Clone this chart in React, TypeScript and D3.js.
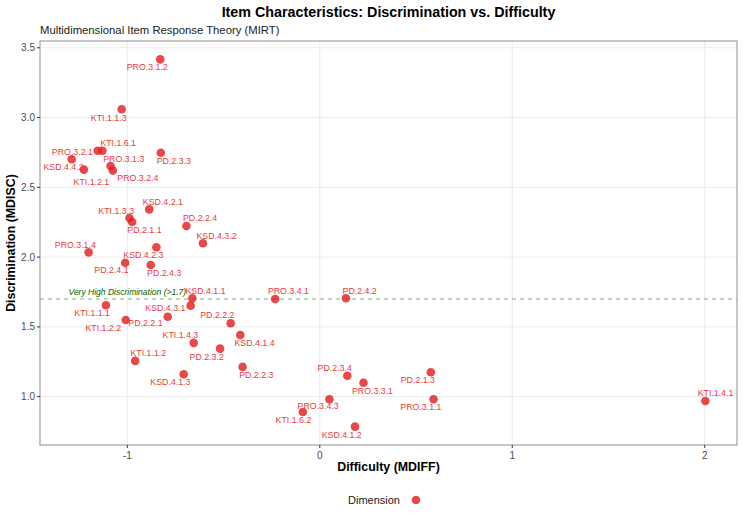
import React from "react";
import * as d3 from "d3";

const items = [
  "PRO.3.1.2", "KTI.1.1.3", "KTI.1.6.1", "PRO.3.1.3", "PRO.3.2.1", "PD.2.3.3", "KSD.4.4.2", "PRO.3.2.4",
  "KTI.1.2.1", "KSD.4.2.1", "KTI.1.3.3", "PD.2.1.1", "PD.2.2.4", "KSD.4.3.2", "PRO.3.1.4", "KSD.4.2.3",
  "PD.2.4.1", "PD.2.4.3", "KSD.4.1.1", "KSD.4.3.1", "KTI.1.1.1", "KTI.1.2.2", "PD.2.2.1", "PD.2.2.2",
  "KSD.4.1.4", "KTI.1.4.3", "PD.2.3.2", "KTI.1.1.2", "PD.2.2.3", "KSD.4.1.3", "PRO.3.4.1", "PD.2.4.2",
  "PD.2.3.4", "PRO.3.3.1", "PD.2.1.3", "PRO.3.1.1", "PRO.3.4.3", "KTI.1.6.2", "KSD.4.1.2", "KTI.1.4.1",
];

const mdiff = [
  -0.829, -1.029, -1.154, -1.129, -1.289, -0.826, -1.226, -1.087,
  -1.075, -0.886, -0.989, -0.975, -0.693, -0.607, -1.201, -0.849,
  -1.011, -0.878, -0.662, -0.671, -1.111, -1.008, -0.79, -0.463,
  -0.413, -0.655, -0.518, -0.959, -0.401, -0.707, -0.232, 0.136,
  0.143, 0.227, 0.577, 0.591, 0.05, -0.088, 0.183, 2.003,
];

const mdisc = [
  3.417, 3.059, 2.762, 2.762, 2.701, 2.748, 2.627, 2.653,
  2.62, 2.342, 2.28, 2.251, 2.223, 2.099, 2.034, 2.07,
  1.96, 1.943, 1.705, 1.652, 1.655, 1.549, 1.573, 1.526,
  1.442, 1.385, 1.344, 1.256, 1.213, 1.16, 1.7, 1.705,
  1.15, 1.1, 1.175, 0.981, 0.981, 0.89, 0.785, 0.969,
];

// label placement (repel-like offsets, in px, text centre relative to point)
const labelDx = [
  -13, -13, 20.5, 21.3, 0.7, 13, -20.3, 27.3,
  -21.5, 13.6, -13.2, 12.3, 13.7, 13.6, -13.3, -13,
  -13.7, 13.4, 13.2, -25.3, -13.8, -22.5, -22.3, -13.3,
  14.2, -13.3, -13.4, 13.1, 13.7, -13.3, 13.3, 13.7,
  -12.6, 9, -13, -12.7, -11.3, -9.4, -13.3, 10.2,
];
const labelDy = [
  8, 8.4, -7.4, 8.6, -7, 8.6, -2.2, 11.7,
  11.2, -7, -7.3, 8, -7.7, -7.6, -7.6, 8,
  7.3, 8.3, -7.3, 2.6, 8, 8.3, 6, -8.3,
  7.7, -8, 8, -7.7, 8, 7.4, -8, -7.6,
  -7.7, 8.7, 8, 8, 7, 8.3, 8.3, -7.7,
];

const xTicks = [-1, 0, 1, 2];
const yTicks = [1.0, 1.5, 2.0, 2.5, 3.0, 3.5];
const threshold = 1.7;
const thresholdLabel = "Very High Discrimination (>1.7)";

const W = 744;
const H = 521;
const panel = { left: 40, right: 737, top: 41, bottom: 445 };
const FONT = "'Liberation Sans', Arial, Helvetica, sans-serif";
const RED = "#E41A1C";
const LABEL_RED = "#EA3B40";

function expand([a, b]: [number, number], f = 0.05): [number, number] {
  const r = b - a;
  return [a - r * f, b + r * f];
}

export default function App() {
  const x = d3
    .scaleLinear()
    .domain(expand(d3.extent(mdiff) as [number, number]))
    .range([panel.left, panel.right]);
  const y = d3
    .scaleLinear()
    .domain(expand(d3.extent(mdisc) as [number, number]))
    .range([panel.bottom, panel.top]);

  const cx = (panel.left + panel.right) / 2;
  const cy = (panel.top + panel.bottom) / 2;

  return (
    <svg
      width={W}
      height={H}
      style={{ position: "absolute", left: 0, top: 0, background: "#fff" }}
      fontFamily={FONT}
    >
      <rect x={0} y={0} width={W} height={H} fill="#fff" />
      {/* title */}
      <text x={cx} y={12} textAnchor="middle" dominantBaseline="central" fontSize={14.3} fontWeight="bold" fill="#000">
        Item Characteristics: Discrimination vs. Difficulty
      </text>
      <text x={panel.left} y={30} dominantBaseline="central" fontSize={11.3} fill="#1a1a1a">
        Multidimensional Item Response Theory (MIRT)
      </text>

      {/* grid */}
      {xTicks.map((t) => (
        <line key={"gx" + t} x1={x(t)} x2={x(t)} y1={panel.top} y2={panel.bottom} stroke="#ebebeb" strokeWidth={1} />
      ))}
      {yTicks.map((t) => (
        <line key={"gy" + t} x1={panel.left} x2={panel.right} y1={y(t)} y2={y(t)} stroke="#ebebeb" strokeWidth={1} />
      ))}

      {/* threshold line */}
      <line
        x1={panel.left}
        x2={panel.right}
        y1={y(threshold)}
        y2={y(threshold)}
        stroke="#006400"
        strokeOpacity={0.5}
        strokeWidth={1.1}
        strokeDasharray="4,4"
      />

      {/* points */}
      {items.map((name, i) => (
        <circle key={"p" + name} cx={x(mdiff[i])} cy={y(mdisc[i])} r={4.3} fill={RED} fillOpacity={0.8} />
      ))}

      {/* annotation */}
      <text
        x={x(-1)}
        y={y(1.75)}
        textAnchor="middle"
        dominantBaseline="central"
        fontSize={8.5}
        fontStyle="italic"
        fill="#006400"
      >
        {thresholdLabel}
      </text>

      {/* labels */}
      {items.map((name, i) => (
        <text
          key={"l" + name}
          x={x(mdiff[i]) + labelDx[i]}
          y={y(mdisc[i]) + labelDy[i]}
          textAnchor="middle"
          dominantBaseline="central"
          fontSize={8.8}
          fill={LABEL_RED}
        >
          {name}
        </text>
      ))}

      {/* panel border */}
      <rect
        x={panel.left}
        y={panel.top}
        width={panel.right - panel.left}
        height={panel.bottom - panel.top}
        fill="none"
        stroke="#999"
        strokeWidth={1.1}
      />

      {/* axes */}
      {xTicks.map((t) => (
        <g key={"xt" + t}>
          <line x1={x(t)} x2={x(t)} y1={panel.bottom} y2={panel.bottom + 3} stroke="#333" strokeWidth={1} />
          <text x={x(t)} y={panel.bottom + 10} textAnchor="middle" dominantBaseline="central" fontSize={10} fill="#4d4d4d">
            {d3.format("d")(t).replace("\u2212", "-")}
          </text>
        </g>
      ))}
      {yTicks.map((t) => (
        <g key={"yt" + t}>
          <line x1={panel.left - 3} x2={panel.left} y1={y(t)} y2={y(t)} stroke="#333" strokeWidth={1} />
          <text x={panel.left - 5} y={y(t)} textAnchor="end" dominantBaseline="central" fontSize={10} fill="#4d4d4d">
            {d3.format(".1f")(t)}
          </text>
        </g>
      ))}

      <text x={cx} y={467} textAnchor="middle" dominantBaseline="central" fontSize={12.4} fontWeight="bold" fill="#000">
        Difficulty (MDIFF)
      </text>
      <text
        transform={`translate(11,${cy}) rotate(-90)`}
        textAnchor="middle"
        dominantBaseline="central"
        fontSize={12.4}
        fontWeight="bold"
        fill="#000"
      >
        Discrimination (MDISC)
      </text>

      {/* legend */}
      <text x={348} y={500} dominantBaseline="central" fontSize={11} fill="#1a1a1a">
        Dimension
      </text>
      <circle cx={416} cy={500} r={4.3} fill={RED} fillOpacity={0.8} />
    </svg>
  );
}
